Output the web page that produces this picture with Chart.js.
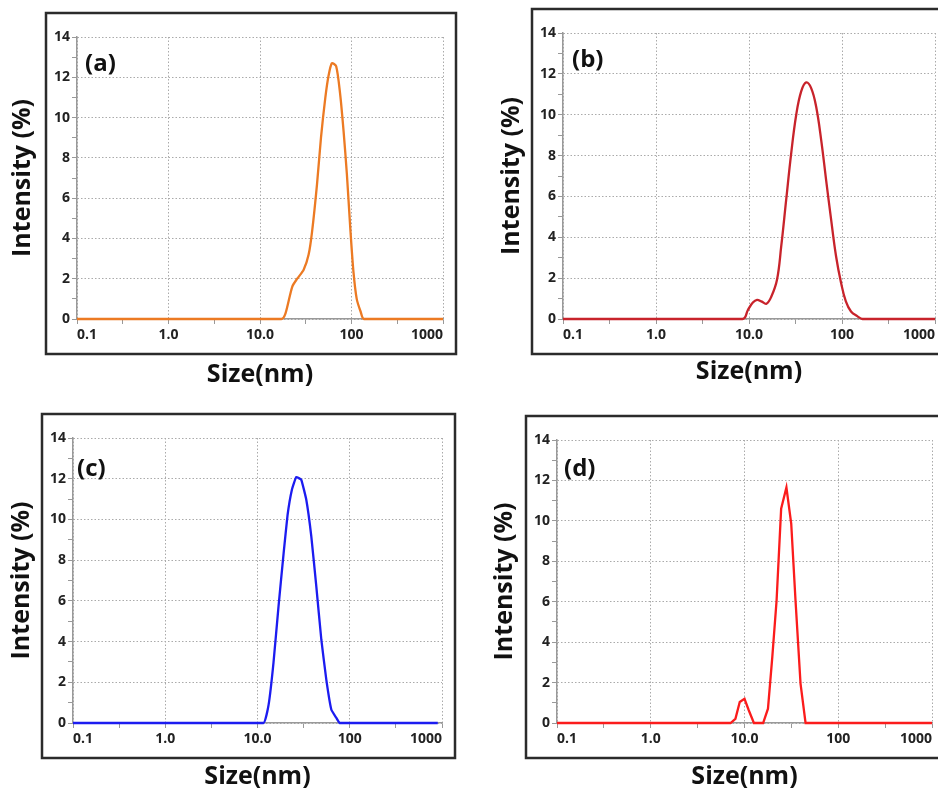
<!DOCTYPE html>
<html>
<head>
<meta charset="utf-8">
<script src="https://cdn.jsdelivr.net/npm/chart.js"></script>
<style>
  html, body { margin: 0; padding: 0; background: #fff; }
  body { width: 938px; height: 789px; overflow: hidden; position: relative; }
  canvas { position: absolute; left: 0; top: 0; }
  .tag { position: absolute; font: bold 24px "Open Sans", sans-serif; line-height: 24px; color: #111; }
</style>
</head>
<body>
<canvas id="ca" width="938" height="800"></canvas>
<canvas id="cb" width="938" height="800"></canvas>
<canvas id="cc" width="938" height="800"></canvas>
<canvas id="cd" width="938" height="800"></canvas>
<div class="tag" style="left:85px;top:50px">(a)</div>
<div class="tag" style="left:572px;top:46px">(b)</div>
<div class="tag" style="left:77px;top:455px">(c)</div>
<div class="tag" style="left:564px;top:455px">(d)</div>
<script>
// size axis ticks (nm) and intensity axis
var xTickValues = [0.1, 0.316, 1, 3.16, 10, 31.6, 100, 316, 1000];
var xTickLabels = ['0.1', '', '1.0', '', '10.0', '', '100', '', '1000'];
var yTickLabels = ['0', '2', '4', '6', '8', '10', '12', '14'];

// (a)
var sizeA = [0.1, 17.1, 19, 22.5, 25.5, 30, 34, 37, 42, 46.4, 51.8, 56, 61, 68, 75, 82, 89, 97, 105, 114, 126, 137, 1000];
var intA  = [0, 0, 0.28, 1.6, 2.0, 2.44, 3.2, 4.3, 6.7, 9.0, 11.0, 12.05, 12.7, 12.55, 11.2, 9.3, 7.2, 4.5, 2.35, 1.0, 0.36, 0, 0];
// (b)
var sizeB = [0.1, 8.5, 9.75, 11, 12.2, 13.6, 15.4, 17.4, 20, 22.2, 25.1, 28.4, 32.2, 36.4, 41.2, 46.6, 52.7, 59.7, 67.5, 76.4, 86.4, 97.8, 110, 125, 147, 166, 1000];
var intB  = [0, 0, 0.45, 0.81, 0.94, 0.86, 0.75, 1.1, 1.92, 3.55, 5.83, 8.1, 10.0, 11.14, 11.58, 11.3, 10.4, 8.77, 6.8, 4.86, 3.06, 1.76, 0.86, 0.37, 0.13, 0, 0];
// (c)
var sizeC = [0.1, 11.6, 13.2, 14.9, 16.9, 19.2, 21.2, 23.6, 26.3, 29.8, 33.8, 38.3, 43.4, 49.2, 55.7, 63.2, 71.6, 77.8, 900];
var intC  = [0, 0, 0.9, 2.95, 5.73, 8.35, 10.23, 11.46, 12.08, 11.95, 10.97, 9.17, 6.71, 4.09, 2.13, 0.65, 0.25, 0, 0];
// (d)
var sizeD = [0.1, 7.1, 8.0, 8.9, 10.0, 11.1, 12.6, 15.8, 17.8, 19.8, 22, 24.6, 28, 31.5, 35, 39.6, 44.8, 1000];
var intD  = [0, 0, 0.21, 1.04, 1.2, 0.63, 0, 0, 0.71, 3.27, 6.07, 10.6, 11.65, 9.87, 6.07, 1.95, 0, 0];

var frameBox = {
  id: 'frameBox',
  afterDraw: function(chart) {
    var a = chart.chartArea, ctx = chart.ctx;
    ctx.save();
    ctx.strokeStyle = '#2b2b2b';
    ctx.lineWidth = 2.5;
    ctx.strokeRect(a.left - 31, a.top - 24, a.right - a.left + 44, a.bottom - a.top + 59);
    ctx.restore();
  }
};

function isMajor(v) {
  return [0.1, 1, 10, 100, 1000].some(function(m) { return Math.abs(v - m) < 1e-6; });
}

function makeChart(id, sizes, vals, color, tension, pad, yWidth, xHeight) {
  var pts = sizes.map(function(s, i) { return {x: s, y: vals[i]}; });
  return new Chart(document.getElementById(id), {
    type: 'line',
    data: {
      datasets: [{
        data: pts,
        borderColor: color,
        borderWidth: 2.3,
        pointRadius: 0,
        tension: tension,
        fill: false,
        clip: 4
      }]
    },
    plugins: [frameBox],
    options: {
      responsive: false,
      animation: false,
      devicePixelRatio: 1,
      layout: { padding: pad },
      plugins: { legend: { display: false }, tooltip: { enabled: false } },
      scales: {
        x: {
          type: 'logarithmic',
          min: 0.1,
          max: 1000,
          afterBuildTicks: function(s) {
            s.ticks = xTickValues.map(function(v) { return {value: v}; });
          },
          afterFit: function(s) { s.height = xHeight; s.paddingLeft = 0; s.paddingRight = 0; },
          ticks: {
            autoSkip: false,
            maxRotation: 0,
            align: 'inner',
            padding: 3,
            color: '#222',
            font: { family: 'Open Sans', weight: 'bold', size: 14 },
            callback: function(v, i) { return xTickLabels[i]; }
          },
          grid: {
            color: function(c) { return c.tick && isMajor(c.tick.value) ? '#aaa' : 'rgba(0,0,0,0)'; },
            tickColor: '#999',
            tickLength: 5,
            lineWidth: 1
          },
          border: { display: true, color: '#999', width: 1.5, dash: [1.5, 2] },
          title: {
            display: true,
            text: 'Size(nm)',
            color: '#111',
            padding: 0,
            font: { family: 'Open Sans', weight: 'bold', size: 25 }
          }
        },
        y: {
          min: 0,
          max: 14,
          afterFit: function(s) { s.width = yWidth; s.paddingTop = 0; s.paddingBottom = 0; },
          ticks: {
            stepSize: 1,
            padding: 2,
            color: '#222',
            font: { family: 'Open Sans', weight: 'bold', size: 14 },
            callback: function(v) { return v % 2 === 0 ? yTickLabels[v / 2] : ''; }
          },
          grid: {
            color: function(c) { return c.tick && c.tick.value % 2 === 0 ? '#aaa' : 'rgba(0,0,0,0)'; },
            tickColor: '#999',
            tickLength: 5,
            lineWidth: 1
          },
          border: { display: true, color: '#999', width: 1.5, dash: [1.5, 2] },
          title: {
            display: true,
            text: 'Intensity (%)',
            color: '#111',
            padding: 0,
            font: { family: 'Open Sans', weight: 'bold', size: 25 }
          }
        }
      }
    }
  });
}

makeChart('ca', sizeA, intA, '#ec7a23', 0.25, {left: 8, top: 37, right: 495, bottom: 410}, 69, 71);
makeChart('cb', sizeB, intB, '#c8232b', 0.4, {left: 497, top: 33, right: 3, bottom: 413}, 66, 68);
makeChart('cc', sizeC, intC, '#1c1cf0', 0.1, {left: 7, top: 438, right: 496, bottom: 8}, 66, 69);
makeChart('cd', sizeD, intD, '#fb1c1c', 0, {left: 490, top: 440, right: 6, bottom: 8}, 67, 69);
</script>
</body>
</html>
